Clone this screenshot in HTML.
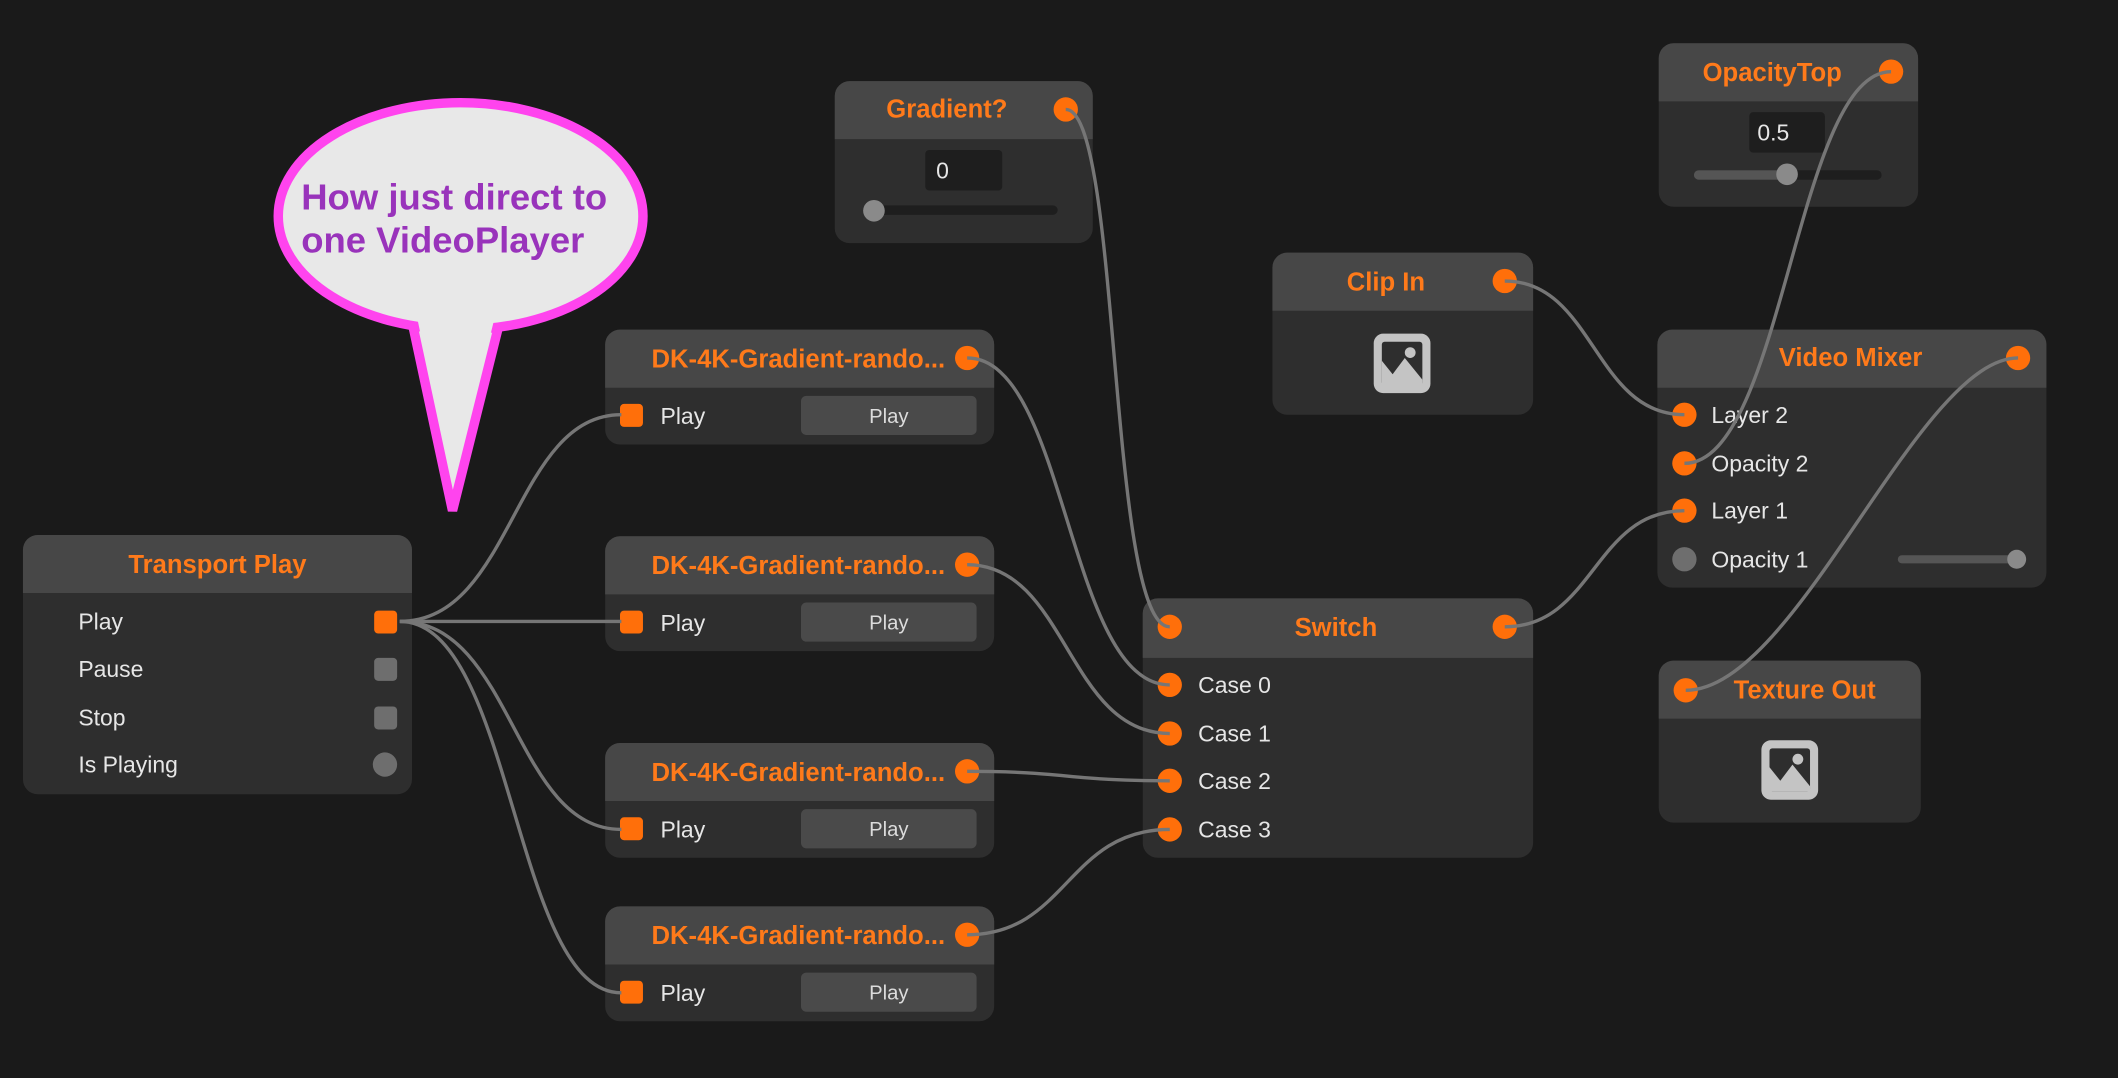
<!DOCTYPE html>
<html><head><meta charset="utf-8"><style>
html,body{margin:0;padding:0;background:#1a1a1a;overflow:hidden}
svg{display:block}
text{font-family:"Liberation Sans",sans-serif}
.t{fill:#ff7a1a;font-weight:bold;font-size:19px;text-anchor:middle}
.l{fill:#e6e6e6;font-size:17px}
.b{fill:#dcdcdc;font-size:15px;text-anchor:middle}
.w{fill:none;stroke:#767676;stroke-width:2.5}
.hd{fill:#474747}.bd{fill:#2e2e2e}
</style></head><body>
<svg width="2118" height="1078" viewBox="0 0 1568 798" xmlns="http://www.w3.org/2000/svg">
<rect width="1568" height="798" fill="#1a1a1a"/>
<defs>
<g id="img"><rect x="-21" y="-22" width="42" height="44" rx="7" fill="#c4c4c4"/><rect x="-15" y="-16" width="30" height="32" rx="2" fill="#2e2e2e"/><path d="M-15 16 L-15 -2 L-7 8 L2 -4 L15 12 L15 16 Z" fill="#c4c4c4"/><circle cx="6" cy="-8" r="4" fill="#c4c4c4"/></g>
</defs>
<!-- speech bubble -->
<path d="M305 238 L335 378 L370 238 Z" fill="#e8e8e8" stroke="#ff44ee" stroke-width="7" stroke-linejoin="miter"/>
<ellipse cx="341" cy="160" rx="135" ry="84" fill="#e8e8e8" stroke="#ff44ee" stroke-width="7"/>
<path d="M309 236 L335 360 L366 236 Z" fill="#e8e8e8"/>
<text x="223" y="155" fill="#9933bb" font-weight="bold" font-size="27">How just direct to</text>
<text x="223" y="187" fill="#9933bb" font-weight="bold" font-size="27">one VideoPlayer</text>
<!-- Transport Play -->
<rect x="17" y="396" width="288" height="192" rx="11" class="bd"/>
<path d="M17 439 V407 a11 11 0 0 1 11 -11 H294 a11 11 0 0 1 11 11 V439 Z" class="hd"/>
<text x="161" y="424" class="t">Transport Play</text>
<text x="58" y="466" class="l">Play</text><text x="58" y="501" class="l">Pause</text><text x="58" y="537" class="l">Stop</text><text x="58" y="572" class="l">Is Playing</text>
<rect x="277" y="452" width="17" height="17" rx="3" fill="#ff6f0a"/>
<rect x="277" y="487" width="17" height="17" rx="3" fill="#6e6e6e"/>
<rect x="277" y="523" width="17" height="17" rx="3" fill="#6e6e6e"/>
<circle cx="285" cy="566" r="9" fill="#6e6e6e"/>
<!-- DK nodes -->
<g id="dk">
<rect x="448" y="244" width="288" height="85" rx="11" class="bd"/>
<path d="M448 287 V255 a11 11 0 0 1 11 -11 H725 a11 11 0 0 1 11 11 V287 Z" class="hd"/>
<text x="591" y="272" class="t">DK-4K-Gradient-rando...</text>
<circle cx="716" cy="265" r="9" fill="#ff6f0a"/>
<rect x="459" y="299" width="17" height="17" rx="3" fill="#ff6f0a"/>
<text x="489" y="314" class="l">Play</text>
<rect x="593" y="293" width="130" height="29" rx="4" fill="#4a4a4a"/>
<text x="658" y="313" class="b">Play</text>
</g>
<use href="#dk" y="153"/>
<use href="#dk" y="306"/>
<use href="#dk" y="427"/>
<!-- Gradient? -->
<rect x="618" y="60" width="191" height="120" rx="11" class="bd"/>
<path d="M618 103 V71 a11 11 0 0 1 11 -11 H798 a11 11 0 0 1 11 11 V103 Z" class="hd"/>
<text x="701" y="87" class="t">Gradient?</text>
<circle cx="789" cy="81" r="9" fill="#ff6f0a"/>
<rect x="685" y="111" width="57" height="30" rx="3" fill="#1e1e1e"/>
<text x="693" y="132" class="l" font-size="15">0</text>
<rect x="645" y="152" width="138" height="7" rx="3.5" fill="#1e1e1e"/>
<circle cx="647" cy="156" r="8" fill="#8a8a8a"/>
<!-- Clip In -->
<rect x="942" y="187" width="193" height="120" rx="11" class="bd"/>
<path d="M942 230 V198 a11 11 0 0 1 11 -11 H1124 a11 11 0 0 1 11 11 V230 Z" class="hd"/>
<text x="1026" y="215" class="t">Clip In</text>
<circle cx="1114" cy="208" r="9" fill="#ff6f0a"/>
<use href="#img" x="1038" y="269"/>
<!-- OpacityTop -->
<rect x="1228" y="32" width="192" height="121" rx="11" class="bd"/>
<path d="M1228 75 V43 a11 11 0 0 1 11 -11 H1409 a11 11 0 0 1 11 11 V75 Z" class="hd"/>
<text x="1312" y="60" class="t">OpacityTop</text>
<circle cx="1400" cy="53" r="9" fill="#ff6f0a"/>
<rect x="1295" y="83" width="56" height="30" rx="3" fill="#1e1e1e"/>
<text x="1301" y="104" class="l" font-size="15">0.5</text>
<rect x="1254" y="126" width="139" height="7" rx="3.5" fill="#1e1e1e"/>
<rect x="1254" y="126" width="70" height="7" rx="3.5" fill="#555"/>
<circle cx="1323" cy="129" r="8" fill="#8a8a8a"/>
<!-- Video Mixer -->
<rect x="1227" y="244" width="288" height="191" rx="11" class="bd"/>
<path d="M1227 287 V255 a11 11 0 0 1 11 -11 H1504 a11 11 0 0 1 11 11 V287 Z" class="hd"/>
<text x="1370" y="271" class="t">Video Mixer</text>
<circle cx="1494" cy="265" r="9" fill="#ff6f0a"/>
<circle cx="1247" cy="307" r="9" fill="#ff6f0a"/><text x="1267" y="313" class="l">Layer 2</text>
<circle cx="1247" cy="343" r="9" fill="#ff6f0a"/><text x="1267" y="349" class="l">Opacity 2</text>
<circle cx="1247" cy="378" r="9" fill="#ff6f0a"/><text x="1267" y="384" class="l">Layer 1</text>
<circle cx="1247" cy="414" r="9" fill="#6e6e6e"/><text x="1267" y="420" class="l">Opacity 1</text>
<rect x="1405" y="411" width="90" height="6" rx="3" fill="#555"/>
<circle cx="1493" cy="414" r="7" fill="#8a8a8a"/>
<!-- Switch -->
<rect x="846" y="443" width="289" height="192" rx="11" class="bd"/>
<path d="M846 487 V454 a11 11 0 0 1 11 -11 H1124 a11 11 0 0 1 11 11 V487 Z" class="hd"/>
<text x="989" y="471" class="t">Switch</text>
<circle cx="866" cy="464" r="9" fill="#ff6f0a"/><circle cx="1114" cy="464" r="9" fill="#ff6f0a"/>
<circle cx="866" cy="507" r="9" fill="#ff6f0a"/><text x="887" y="513" class="l">Case 0</text>
<circle cx="866" cy="543" r="9" fill="#ff6f0a"/><text x="887" y="549" class="l">Case 1</text>
<circle cx="866" cy="578" r="9" fill="#ff6f0a"/><text x="887" y="584" class="l">Case 2</text>
<circle cx="866" cy="614" r="9" fill="#ff6f0a"/><text x="887" y="620" class="l">Case 3</text>
<!-- Texture Out -->
<rect x="1228" y="489" width="194" height="120" rx="11" class="bd"/>
<path d="M1228 532 V500 a11 11 0 0 1 11 -11 H1411 a11 11 0 0 1 11 11 V532 Z" class="hd"/>
<text x="1336" y="517" class="t">Texture Out</text>
<circle cx="1248" cy="511" r="9" fill="#ff6f0a"/>
<use href="#img" x="1325" y="570"/>
<!-- wires (on top) -->
<path class="w" d="M296 460 C380 460 380 307 460 307"/>
<path class="w" d="M296 460 L460 460"/>
<path class="w" d="M296 460 C380 460 380 614 460 614"/>
<path class="w" d="M296 460 C380 460 380 735 460 735"/>
<path class="w" d="M716 265 C790 265 790 507 866 507"/>
<path class="w" d="M716 418 C790 418 790 543 866 543"/>
<path class="w" d="M716 571 C790 571 790 578 866 578"/>
<path class="w" d="M716 692 C790 692 790 614 866 614"/>
<path class="w" d="M789 81 C830 81 820 464 866 464"/>
<path class="w" d="M1114 208 C1180 208 1180 307 1247 307"/>
<path class="w" d="M1114 464 C1180 464 1180 378 1247 378"/>
<path class="w" d="M1400 53 C1330 53 1320 343 1247 343"/>
<path class="w" d="M1494 265 C1420 265 1330 511 1248 511"/>
</svg>
</body></html>
